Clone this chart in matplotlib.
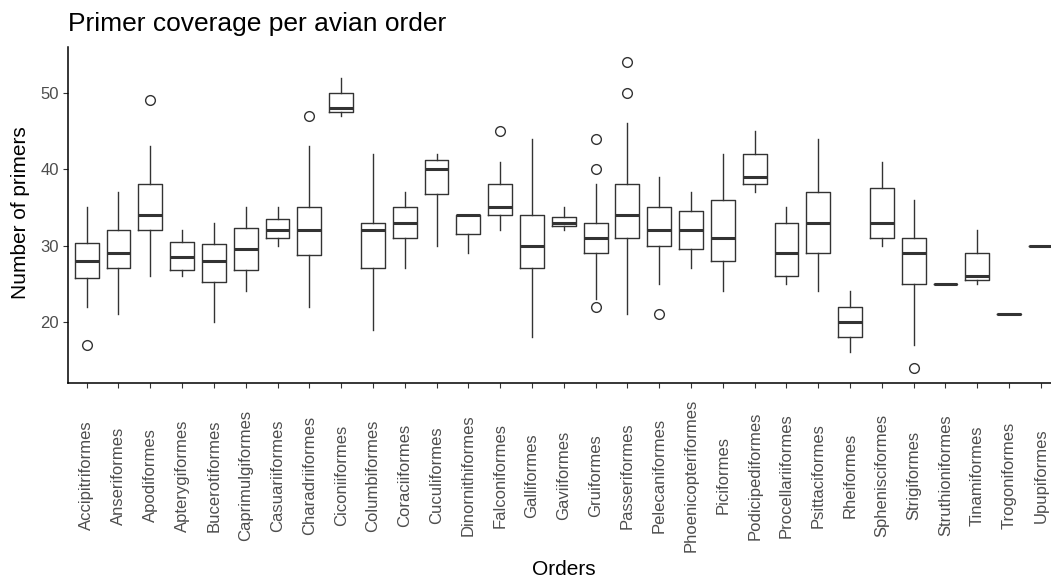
import matplotlib
matplotlib.use("Agg")
import matplotlib.pyplot as plt

# ordenes de aves y resumen de cada caja
ordenes = ["Accipitriformes", "Anseriformes", "Apodiformes", "Apterygiformes",
           "Bucerotiformes", "Caprimulgiformes", "Casuariiformes", "Charadriiformes",
           "Ciconiiformes", "Columbiformes", "Coraciiformes", "Cuculiformes",
           "Dinornithiformes", "Falconiformes", "Galliformes", "Gaviiformes",
           "Gruiformes", "Passeriformes", "Pelecaniformes", "Phoenicopteriformes",
           "Piciformes", "Podicipediformes", "Procellariiformes", "Psittaciformes",
           "Rheiformes", "Sphenisciformes", "Strigiformes", "Struthioniformes",
           "Tinamiformes", "Trogoniformes", "Upupiformes"]

bigote_inf = [22, 21, 26, 26, 20, 24, 30, 22, 47, 19, 27, 30, 29, 32, 18, 32,
              23, 21, 25, 27, 24, 37, 25, 24, 16, 30, 17, 25, 25, 21, 30]
q1 = [25.7, 27, 32, 26.75, 25.25, 26.75, 31, 28.75, 47.5, 27, 31, 36.75, 31.5, 34, 27, 32.5,
      29, 31, 30, 29.5, 28, 38, 26, 29, 18, 31, 25, 25, 25.5, 21, 30]
mediana = [28, 29, 34, 28.5, 28, 29.5, 32, 32, 48, 32, 33, 40, 34, 35, 30, 33,
           31, 34, 32, 32, 31, 39, 29, 33, 20, 33, 29, 25, 26, 21, 30]
q3 = [30.3, 32, 38, 30.5, 30.25, 32.25, 33.5, 35, 50, 33, 35, 41.25, 34, 38, 34, 33.75,
      33, 38, 35, 34.5, 36, 42, 33, 37, 22, 37.5, 31, 25, 29, 21, 30]
bigote_sup = [35, 37, 43, 32, 33, 35, 35, 43, 52, 42, 37, 42, 34, 41, 44, 35,
              38, 46, 39, 37, 42, 45, 35, 44, 24, 41, 36, 25, 32, 21, 30]
atipicos = [[17], [], [49], [], [], [], [], [47], [], [], [], [], [], [45], [], [],
            [44, 40, 22], [50, 54], [21], [], [], [], [], [], [], [], [14], [], [], [], []]

gris = "#333333"

fig = plt.figure(figsize=(10.51, 5.77), dpi=100)
ax = fig.add_axes([67.6 / 1051, 1 - 383 / 577, (1060 - 67.6) / 1051, 336 / 577])

stats = []
for i in range(len(ordenes)):
    stats.append({"label": ordenes[i], "whislo": bigote_inf[i], "q1": q1[i],
                  "med": mediana[i], "q3": q3[i], "whishi": bigote_sup[i],
                  "fliers": atipicos[i]})

ax.bxp(stats, positions=range(len(ordenes)), widths=0.75, showcaps=False,
       boxprops=dict(color=gris, linewidth=1.0),
       whiskerprops=dict(color=gris, linewidth=1.0),
       medianprops=dict(color=gris, linewidth=2.2, solid_capstyle="butt"),
       flierprops=dict(marker="o", markerfacecolor="none", markeredgecolor=gris,
                       markersize=7, markeredgewidth=1.0))

ax.set_xlim(-0.6, len(ordenes) - 0.4)
ax.set_ylim(12, 56)
ax.set_yticks([20, 30, 40, 50])

fuente = "Liberation Sans"
ax.set_xticks(range(len(ordenes)))
ax.set_xticklabels(ordenes, rotation=90, va="center", ha="center",
                   fontsize=12, color="#4D4D4D", family=fuente)
for t in ax.get_yticklabels():
    t.set_fontsize(12)
    t.set_color("#4D4D4D")
    t.set_family(fuente)

ax.tick_params(axis="x", length=3.6, width=0.8, color=gris, pad=63)
ax.tick_params(axis="y", length=3.6, width=0.8, color=gris, pad=2.8)

for lado in ["top", "right"]:
    ax.spines[lado].set_visible(False)
for lado in ["left", "bottom"]:
    ax.spines[lado].set_linewidth(1.1)
    ax.spines[lado].set_color("black")

fig.text(68 / 1051, 1 - 31 / 577, "Primer coverage per avian order",
         fontsize=19, family=fuente, va="baseline", ha="left")
fig.text(564 / 1051, 1 - 575 / 577, "Orders", fontsize=15, family=fuente,
         va="baseline", ha="center")
fig.text(20.5 / 1051, 1 - 213 / 577, "Number of primers", fontsize=15,
         family=fuente, rotation=90, va="center", ha="center")

fig.savefig("out.png", dpi=100)
